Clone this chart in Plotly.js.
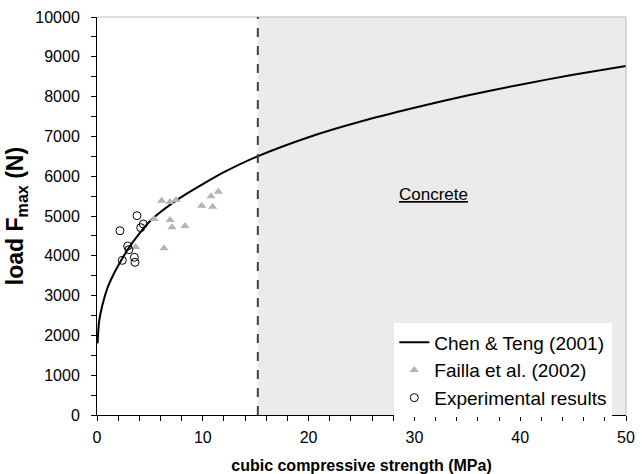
<!DOCTYPE html>
<html>
<head>
<meta charset="utf-8">
<script src="https://cdn.plot.ly/plotly-3.0.1.min.js"></script>
<style>
html,body{margin:0;padding:0;background:#fff;}
#chart{width:642px;height:474px;}
</style>
</head>
<body>
<div id="chart"></div>
<script>
// Chen & Teng (2001) model curve
const modelX = [0.05, 0.2, 0.5, 1, 1.5, 2, 2.5, 3, 4, 5, 6, 7, 8, 10, 12, 15, 20, 25, 30, 35, 40, 45, 50];
const modelY = [1800, 2350, 2750, 3200, 3500, 3750, 3980, 4200, 4560, 4870, 5100, 5300, 5480, 5800, 6100, 6480, 6980, 7380, 7720, 8030, 8300, 8550, 8770];

// Failla et al. (2002)
const faillaX = [6.11, 6.90, 7.47, 9.90, 5.39, 6.90, 7.09, 8.32, 6.33, 3.65, 10.93, 10.78, 11.47];
const faillaY = [5385, 5352, 5402, 5259, 4925, 4899, 4715, 4749, 4188, 4221, 5234, 5495, 5611];

// Experimental results
const expX = [2.17, 3.78, 4.38, 4.13, 2.90, 3.02, 2.39, 3.53, 3.59];
const expY = [4630, 5008, 4799, 4706, 4246, 4154, 3886, 3962, 3836];

// Boundary of concrete region
const concreteLimit = 15.2;

const traces = [
  {x: modelX, y: modelY, type: 'scatter', mode: 'lines', name: 'Chen &amp; Teng (2001)',
   line: {color: '#000000', width: 2, shape: 'spline', smoothing: 0.6}},
  {x: faillaX, y: faillaY, type: 'scatter', mode: 'markers', name: 'Failla et al. (2002)',
   marker: {symbol: 'triangle-up', size: 8, color: '#b4b4b4'}},
  {x: expX, y: expY, type: 'scatter', mode: 'markers', name: 'Experimental results',
   marker: {symbol: 'circle-open', size: 8, color: '#000000', line: {width: 1, color: '#000000'}}}
];

const layout = {
  width: 642, height: 474,
  margin: {l: 97, r: 16, t: 17, b: 59},
  paper_bgcolor: '#ffffff', plot_bgcolor: '#ffffff',
  font: {family: 'Liberation Sans, Arial, sans-serif', size: 16, color: '#000'},
  showlegend: true,
  xaxis: {
    range: [0, 50], dtick: 10, tick0: 0, showgrid: false, zeroline: false,
    showline: true, linecolor: '#000', linewidth: 1, mirror: false,
    ticks: 'outside', ticklen: 5, tickcolor: '#000', ticklabelstandoff: 3,
    minor: {dtick: 2, ticks: 'outside', ticklen: 5, tickcolor: '#000', showgrid: false},
    tickfont: {size: 16},
    title: {text: '<b>cubic compressive strength (MPa)</b>', font: {size: 16}, standoff: 14}
  },
  yaxis: {
    range: [0, 10000], dtick: 1000, tick0: 0, tickformat: 'd', showgrid: false, zeroline: false,
    showline: true, linecolor: '#000', linewidth: 1,
    ticks: 'outside', ticklen: 5, tickcolor: '#000', ticklabelstandoff: 8,
    minor: {dtick: 500, ticks: 'outside', ticklen: 5, tickcolor: '#000', showgrid: false},
    tickfont: {size: 16},
    title: {text: '<b>load F<sub>max</sub> (N)</b>', font: {size: 23}, standoff: 5}
  },
  shapes: [
    {type: 'rect', xref: 'x', yref: 'y', x0: concreteLimit, x1: 50, y0: 0, y1: 10000,
     fillcolor: '#ebebeb', line: {width: 0}, layer: 'below'},
    {type: 'line', xref: 'paper', yref: 'paper', x0: 0, x1: 1, y0: 1, y1: 1,
     line: {color: '#bdbdbd', width: 1}},
    {type: 'line', xref: 'paper', yref: 'paper', x0: 1, x1: 1, y0: 0, y1: 1,
     line: {color: '#bdbdbd', width: 1}},
    {type: 'line', xref: 'x', yref: 'y', x0: concreteLimit, x1: concreteLimit, y0: 0, y1: 10000,
     line: {color: '#404040', width: 2, dash: 'dash'}}
  ],
  annotations: [
    {x: 31.8, y: 5530, xref: 'x', yref: 'y', text: '<u>Concrete</u>', showarrow: false,
     font: {size: 17, color: '#000'}}
  ],
  legend: {
    x: 0.562, y: -0.006, xanchor: 'left', yanchor: 'bottom',
    bgcolor: '#ffffff', borderwidth: 0,
    font: {size: 19, color: '#000'}, tracegroupgap: 0, itemwidth: 30
  }
};

Plotly.newPlot('chart', traces, layout, {displayModeBar: false, staticPlot: true});
</script>
</body>
</html>
